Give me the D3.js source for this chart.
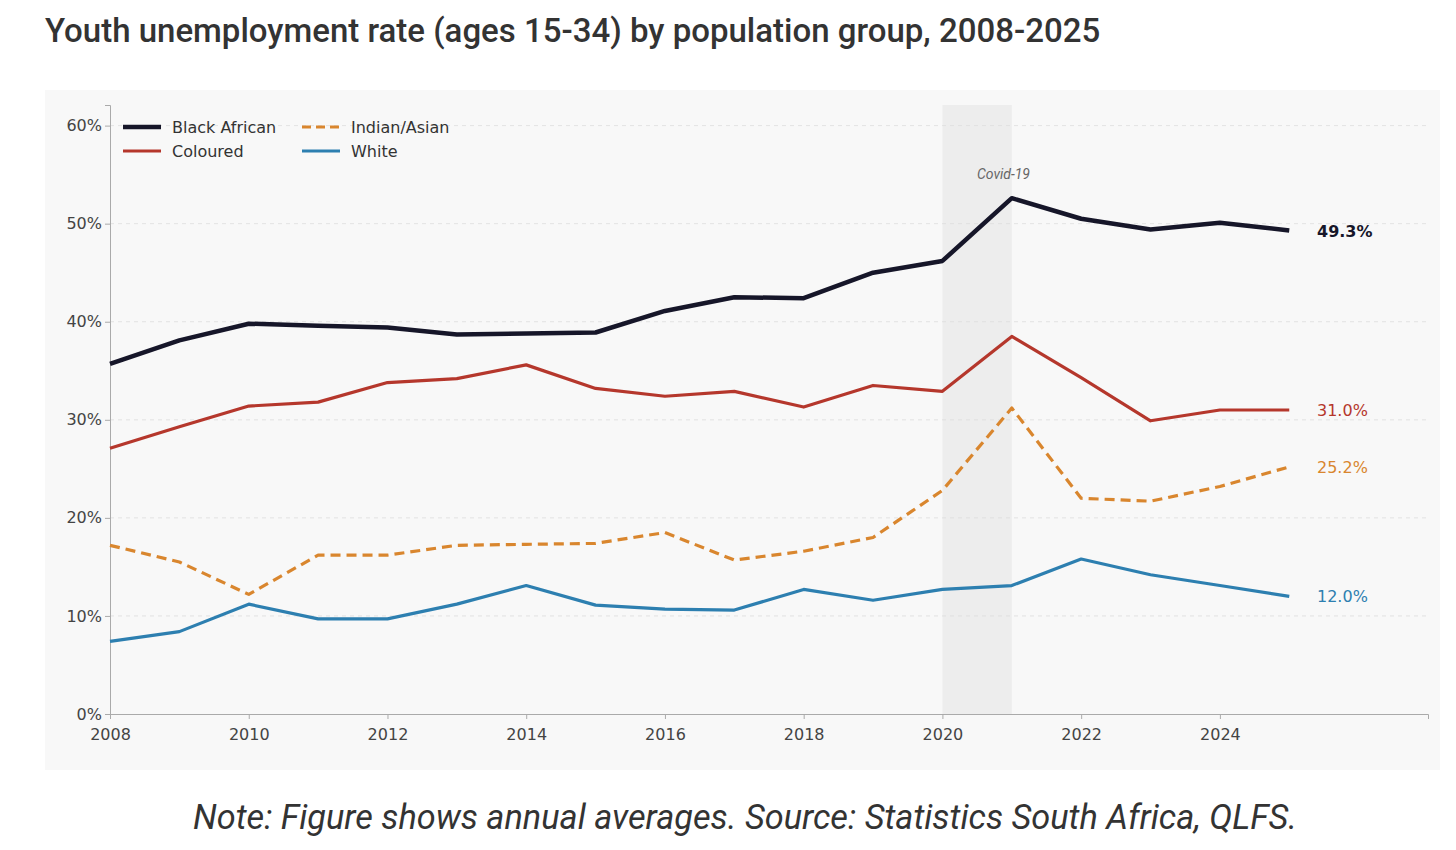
<!DOCTYPE html>
<html><head><meta charset="utf-8">
<script src="https://cdn.jsdelivr.net/npm/d3@7"></script>
<style>body{margin:0;background:#fff;font-family:Roboto,"Open Sans",sans-serif}</style>
</head><body><svg id="c" width="1456" height="850"></svg>
<script>
const years = d3.range(2008, 2026);
const blackAfrican = [35.7,38.1,39.8,39.6,39.4,38.7,38.8,38.9,41.1,42.5,42.4,45.0,46.2,52.6,50.5,49.4,50.1,49.3];
const coloured = [27.1,29.3,31.4,31.8,33.8,34.2,35.6,33.2,32.4,32.9,31.3,33.5,32.9,38.5,34.3,29.9,31.0,31.0];
const indianAsian = [17.2,15.5,12.2,16.2,16.2,17.2,17.3,17.4,18.5,15.7,16.6,18.0,22.8,31.2,22.0,21.7,23.2,25.2];
const white = [7.4,8.4,11.2,9.7,9.7,11.2,13.1,11.1,10.7,10.6,12.7,11.6,12.7,13.1,15.8,14.2,13.1,12.0];
const xTicks = [2008,2010,2012,2014,2016,2018,2020,2022,2024];
const yTicks = [0,10,20,30,40,50,60];

const series = [
  {name:"Black African", vals:blackAfrican, color:"#161629", w:4.5, dash:null, label:"49.3%", bold:true},
  {name:"Coloured", vals:coloured, color:"#b5372c", w:3.2, dash:null, label:"31.0%"},
  {name:"Indian/Asian", vals:indianAsian, color:"#d9862e", w:3.2, dash:"10,6", label:"25.2%"},
  {name:"White", vals:white, color:"#2d7fb0", w:3.2, dash:null, label:"12.0%"}
];

const svg = d3.select("#c");
svg.append("text").attr("x",45).attr("y",42).attr("font-size",33).attr("font-weight",500).attr("fill","#333").text("Youth unemployment rate (ages 15-34) by population group, 2008-2025");
svg.append("rect").attr("x",45).attr("y",90).attr("width",1395).attr("height",680).attr("fill","#f8f8f8");

const x = d3.scaleLinear().domain([2008,2027]).range([110,1428]);
const y = d3.scaleLinear().domain([0,62.1]).range([714,105]);

svg.append("rect").attr("x",x(2020)).attr("y",105).attr("width",x(2021)-x(2020)).attr("height",714-105).attr("fill","#ebebeb").attr("opacity",0.9);
svg.append("text").attr("x",x(2020.88)).attr("y",179).attr("text-anchor","middle").attr("font-size",14).attr("font-style","italic").attr("fill","#666").text("Covid-19");

const g = svg.append("g");
g.selectAll(".grid").data(yTicks.slice(1)).enter().append("line")
  .attr("x1",110).attr("x2",1428).attr("y1",d=>y(d)).attr("y2",d=>y(d))
  .attr("stroke","#ddd").attr("stroke-dasharray","4,4").attr("stroke-width",0.8);

const xa = svg.append("g").attr("transform","translate(0,714)")
  .call(d3.axisBottom(x).tickValues(xTicks).tickFormat(d3.format("d")).tickSize(5));
const ya = svg.append("g").attr("transform","translate(110,0)")
  .call(d3.axisLeft(y).tickValues(yTicks).tickFormat(d=>d+"%").tickSize(5));
[xa,ya].forEach(a=>{a.selectAll("text").attr("font-size",16).attr("fill","#444").attr("font-family","DejaVu Sans, sans-serif");
  a.selectAll("line,path").attr("stroke","#aaa");});
xa.selectAll("text").attr("dy","1.15em");

const line = d3.line().x((d,i)=>x(years[i])).y(d=>y(d));
series.forEach(s=>{
  svg.append("path").datum(s.vals).attr("d",line).attr("fill","none")
    .attr("stroke",s.color).attr("stroke-width",s.w).attr("stroke-dasharray",s.dash)
    .attr("stroke-linejoin","round");
  svg.append("text").attr("x",1317).attr("y",y(s.vals[s.vals.length-1])+6)
    .attr("font-size",16).attr("font-family","DejaVu Sans, sans-serif")
    .attr("font-weight",s.bold?"bold":"normal").attr("fill",s.color).text(s.label);
});

const leg = [[0,123,127],[1,123,151],[2,302,127],[3,302,151]];
leg.forEach(([i,lx,ly])=>{
  const s = series[i];
  svg.append("line").attr("x1",lx).attr("x2",lx+38).attr("y1",ly).attr("y2",ly)
    .attr("stroke",s.color).attr("stroke-width",s.w).attr("stroke-dasharray",s.dash?"9,5":null);
  svg.append("text").attr("x",lx+49).attr("y",ly+6).attr("font-size",16).attr("fill","#333")
    .attr("font-family","DejaVu Sans, sans-serif").text(s.name);
});

svg.append("text").attr("x",745).attr("y",829).attr("text-anchor","middle").attr("font-size",34.3)
  .attr("font-style","italic").attr("fill","#333").text("Note: Figure shows annual averages. Source: Statistics South Africa, QLFS.");
</script></body></html>
